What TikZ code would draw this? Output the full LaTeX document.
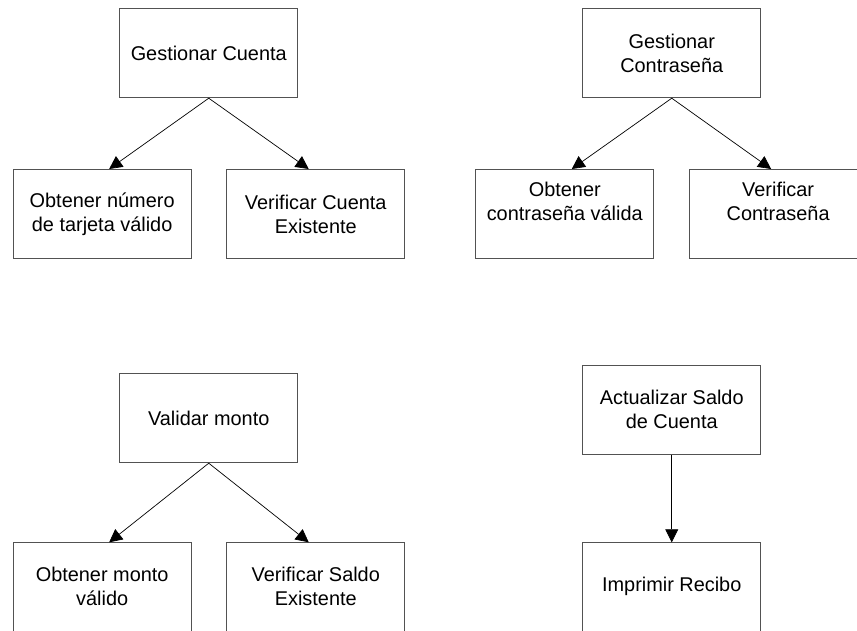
\documentclass[tikz,border=0pt]{standalone}
\usepackage{fontspec}
\setmainfont{Liberation Sans}
\usetikzlibrary{arrows.meta,calc}

\tikzset{
  box/.style={draw=black!68, line width=0.9pt, minimum width=178pt, minimum height=89pt,
              inner sep=0pt, anchor=north west, align=center},
  lbl/.style={align=center, inner sep=0pt},
  link/.style={draw=black, line width=0.7pt, -{Triangle[length=13pt,width=13pt]}}
}

\begin{document}
\begin{tikzpicture}[x=1pt, y=-1pt, font=\fontsize{19.9}{24}\selectfont]
\useasboundingbox (0,0) rectangle (857,630);
\clip (0,0) rectangle (857,630);

% account management
\node[box] (gc) at (119.3,8.3) {Gestionar Cuenta};
\node[box] (onum) at (12.7,169) {Obtener número\\de tarjeta válido};
\node[box] (vce) at (226.3,169) {Verificar Cuenta\\Existente};

% password management
\node[box] (gp) at (582.3,8.3) {Gestionar\\Contraseña};
\node[box] (ocv) at (475.3,169) {};
\node[box] (vcp) at (688.7,169) {};
\node[lbl] (ocvt) at ($(ocv.center)+(0,-13)$) {Obtener\\contraseña válida};
\node[lbl] (vcpt) at ($(vcp.center)+(0,-13)$) {Verificar\\Contraseña};

% amount validation
\node[box] (vm) at (119.3,373.3) {Validar monto};
\node[box] (omv) at (12.7,542.3) {};
\node[box] (vse) at (226.3,542.3) {};
\node[lbl] (omvt) at ($(omv.north)+(0,44.4)$) {Obtener monto\\válido};
\node[lbl] (vset) at ($(vse.north)+(0,44.4)$) {Verificar Saldo\\Existente};

% balance update and receipt
\node[box] (asc) at (582.3,364.7) {Actualizar Saldo\\de Cuenta};
\node[box] (ir) at (582.3,542.3) {};
\node[lbl] (irt) at ($(ir.north)+(0,44.4)$) {Imprimir Recibo};

% connectors
\draw[link] (gc.south) -- ($(onum.north)+(7,0)$);
\draw[link] (gc.south) -- ($(vce.north)+(-7,0)$);
\draw[link] (gp.south) -- ($(ocv.north)+(7,0)$);
\draw[link] (gp.south) -- ($(vcp.north)+(-7,0)$);
\draw[link] (vm.south) -- ($(omv.north)+(7,0)$);
\draw[link] (vm.south) -- ($(vse.north)+(-7,0)$);
\draw[link] (asc.south) -- (ir.north);
\end{tikzpicture}
\end{document}
